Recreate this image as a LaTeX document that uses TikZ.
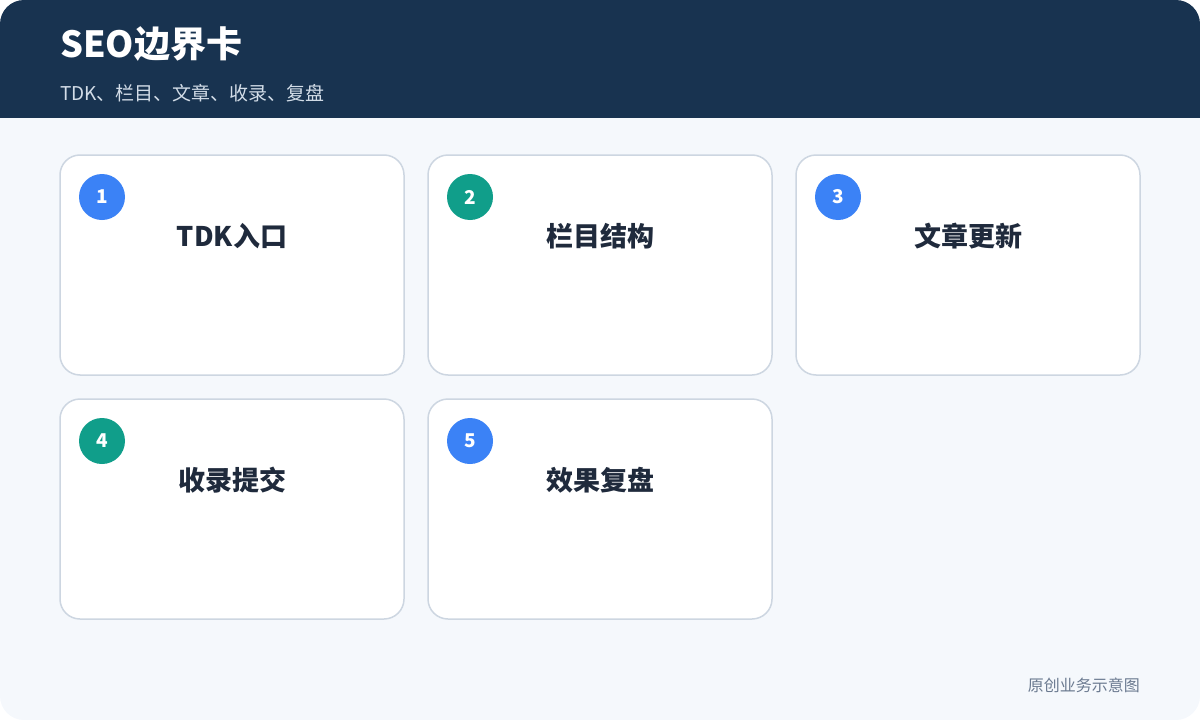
\documentclass[tikz,border=0pt]{standalone}
\usepackage{fontspec}
\setmainfont{Noto Sans CJK SC}
\definecolor{headbg}{HTML}{183350}
\definecolor{bodybg}{HTML}{F5F8FC}
\definecolor{cardline}{HTML}{CDD6E1}
\definecolor{blueA}{HTML}{3B82F6}
\definecolor{tealA}{HTML}{109E8A}
\definecolor{titletext}{HTML}{1F2A3C}
\definecolor{subtext}{HTML}{D3DDE8}
\definecolor{foottext}{HTML}{6B7A90}
\tikzset{
  card/.style={draw=cardline, line width=1.5pt, fill=white, rounded corners=20pt, minimum width=344pt, minimum height=220pt, inner sep=0pt},
  badge/.style={circle, fill=#1, minimum size=46pt, inner sep=0pt, text=white, font=\fontsize{19}{21}\selectfont\bfseries},
  cardtitle/.style={text=titletext, font=\fontsize{27}{31}\selectfont\bfseries, inner sep=0pt}
}
\begin{document}
\begin{tikzpicture}[x=1pt,y=-1pt]
\useasboundingbox (0,0) rectangle (1200,720);
\begin{scope}
\clip[rounded corners=24pt] (0,0) rectangle (1200,720);
\fill[bodybg] (0,0) rectangle (1200,720);
\fill[headbg] (0,0) rectangle (1200,118);
\end{scope}
\node[anchor=west, text=white, font=\fontsize{36}{40}\selectfont\bfseries, inner sep=0pt] (title) at (60,44) {SEO边界卡};
\node[anchor=west, text=subtext, font=\fontsize{19}{23}\selectfont, inner sep=0pt] (sub) at (60,93) {TDK、栏目、文章、收录、复盘};
% cards
\node[card] (c1) at (232,265) {};
\node[card] (c2) at (600,265) {};
\node[card] (c3) at (968,265) {};
\node[card] (c4) at (232,509) {};
\node[card] (c5) at (600,509) {};
\node[badge=blueA] (b1) at (102,197) {1};
\node[badge=tealA] (b2) at (470,197) {2};
\node[badge=blueA] (b3) at (838,197) {3};
\node[badge=tealA] (b4) at (102,441) {4};
\node[badge=blueA] (b5) at (470,441) {5};
\node[cardtitle] (t1) at (232,236) {TDK入口};
\node[cardtitle] (t2) at (600,236) {栏目结构};
\node[cardtitle] (t3) at (968,236) {文章更新};
\node[cardtitle] (t4) at (232,480) {收录提交};
\node[cardtitle] (t5) at (600,480) {效果复盘};
\node[anchor=east, text=foottext, font=\fontsize{16}{19}\selectfont, inner sep=0pt] (foot) at (1140,685) {原创业务示意图};
\end{tikzpicture}
\end{document}
